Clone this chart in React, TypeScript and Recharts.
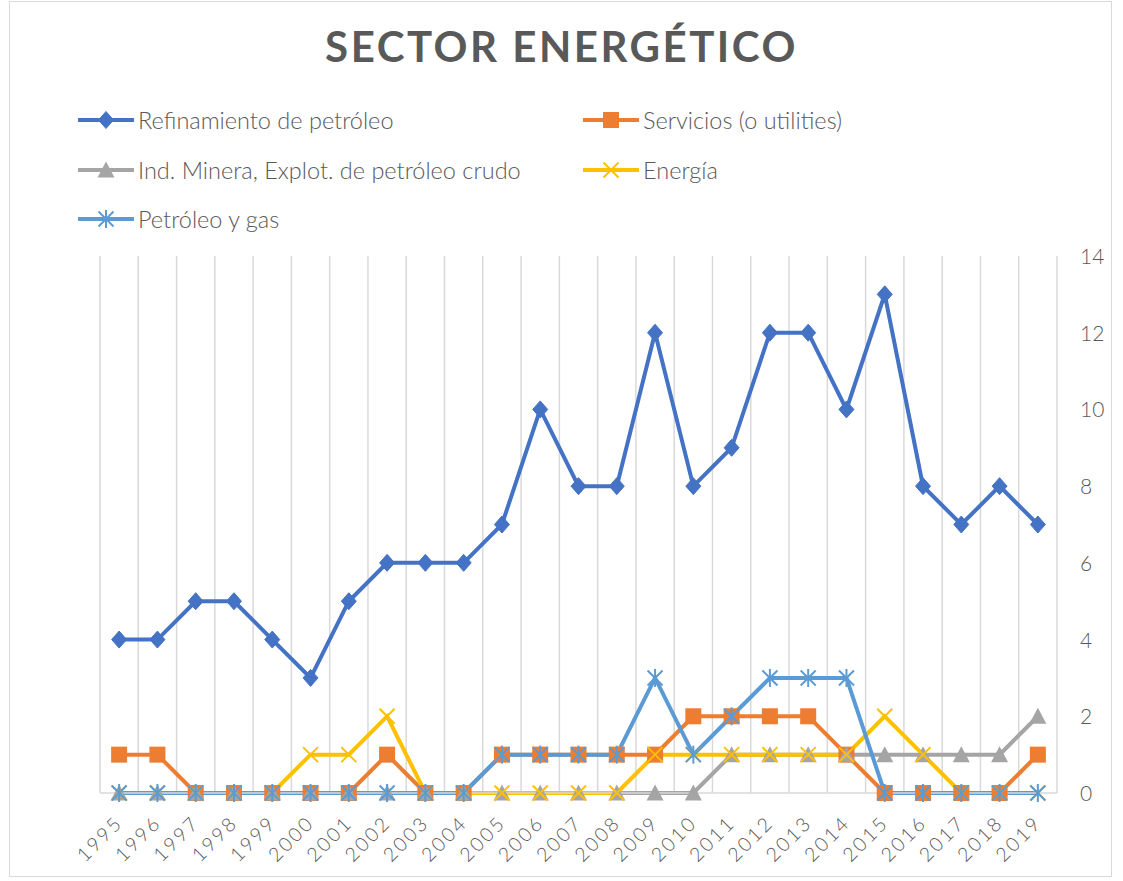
import React from 'react';
import { LineChart, Line, XAxis, YAxis, ReferenceLine } from 'recharts';

const years = ['1995','1996','1997','1998','1999','2000','2001','2002','2003','2004','2005','2006','2007','2008','2009','2010','2011','2012','2013','2014','2015','2016','2017','2018','2019'];
const refinamiento = [4,4,5,5,4,3,5,6,6,6,7,10,8,8,12,8,9,12,12,10,13,8,7,8,7];
const servicios = [1,1,0,0,0,0,0,1,0,0,1,1,1,1,1,2,2,2,2,1,0,0,0,0,1];
const minera = [0,0,0,0,0,0,0,0,0,0,0,0,0,0,0,0,1,1,1,1,1,1,1,1,2];
const energia = [0,0,0,0,0,1,1,2,0,0,0,0,0,0,1,1,1,1,1,1,2,1,0,0,0];
const petroleoGas = [0,0,0,0,0,0,0,0,0,0,1,1,1,1,3,1,2,3,3,3,0,0,0,0,0];
const yTicks = [0,2,4,6,8,10,12,14];

const data = years.map((y, i) => ({
  idx: i,
  year: y,
  refinamiento: refinamiento[i],
  servicios: servicios[i],
  minera: minera[i],
  energia: energia[i],
  petroleoGas: petroleoGas[i],
}));

const gridXs = Array.from({ length: years.length + 1 }, (_, i) => i - 0.5);

const FONT = 'Lato, "Open Sans", sans-serif';
const TXT = '#595959';

type Shape = 'diamond' | 'square' | 'triangle' | 'x' | 'star';

const Marker = ({ cx, cy, shape, color }: { cx: number; cy: number; shape: Shape; color: string }) => {
  if (cx == null || cy == null) return null;
  switch (shape) {
    case 'diamond':
      return <polygon points={`${cx},${cy - 8.5} ${cx + 7.5},${cy} ${cx},${cy + 8.5} ${cx - 7.5},${cy}`} fill={color} stroke={color} />;
    case 'square':
      return <rect x={cx - 8} y={cy - 8} width={16} height={16} fill={color} />;
    case 'triangle':
      return <polygon points={`${cx},${cy - 8.5} ${cx + 8.5},${cy + 7.5} ${cx - 8.5},${cy + 7.5}`} fill={color} />;
    case 'x':
      return (
        <g stroke={color} strokeWidth={2}>
          <line x1={cx - 7.5} y1={cy - 7.5} x2={cx + 7.5} y2={cy + 7.5} />
          <line x1={cx - 7.5} y1={cy + 7.5} x2={cx + 7.5} y2={cy - 7.5} />
        </g>
      );
    case 'star':
      return (
        <g stroke={color} strokeWidth={2}>
          <line x1={cx - 7.5} y1={cy - 7.5} x2={cx + 7.5} y2={cy + 7.5} />
          <line x1={cx - 7.5} y1={cy + 7.5} x2={cx + 7.5} y2={cy - 7.5} />
          <line x1={cx} y1={cy - 9} x2={cx} y2={cy + 9} />
        </g>
      );
  }
  return null;
};

const series: { key: string; name: string; color: string; shape: Shape }[] = [
  { key: 'refinamiento', name: 'Refinamiento de petróleo', color: '#4472C4', shape: 'diamond' },
  { key: 'servicios', name: 'Servicios (o utilities)', color: '#ED7D31', shape: 'square' },
  { key: 'minera', name: 'Ind. Minera, Explot. de petróleo crudo', color: '#A5A5A5', shape: 'triangle' },
  { key: 'energia', name: 'Energía', color: '#FFC000', shape: 'x' },
  { key: 'petroleoGas', name: 'Petróleo y gas', color: '#5B9BD5', shape: 'star' },
];

const LegendBlock = () => (
  <div style={{ position: 'absolute', left: 0, top: 104, width: 1123, height: 150 }}>
    {series.map((s, i) => {
      const col = i % 2;
      const row = Math.floor(i / 2);
      return (
        <div key={s.key} style={{ position: 'absolute', left: col === 0 ? 78 : 583, top: row * 49.5, height: 32, display: 'flex', alignItems: 'center' }}>
          <svg width={56} height={20} style={{ display: 'block' }}>
            <line x1={0} y1={10} x2={56} y2={10} stroke={s.color} strokeWidth={4} />
            <Marker cx={28} cy={10} shape={s.shape} color={s.color} />
          </svg>
          <span style={{ fontFamily: FONT, fontWeight: 300, fontSize: 23.5, color: TXT, marginLeft: 4, whiteSpace: 'nowrap' }}>{s.name}</span>
        </div>
      );
    })}
  </div>
);

const XTick = ({ x, y, payload }: any) => (
  <text
    x={x + 5}
    y={y + 23}
    transform={`rotate(-45 ${x + 5} ${y + 23})`}
    textAnchor="end"
    fill={TXT}
    fontFamily={FONT}
    fontWeight={300}
    fontSize={19.5}
    letterSpacing={2.5}
  >
    {years[payload.value]}
  </text>
);

const YTick = ({ x, y, payload }: any) => (
  <text x={x + 15} y={y + 8} textAnchor="start" fill={TXT} fontFamily={FONT} fontWeight={300} fontSize={21}>
    {payload.value}
  </text>
);

export default function App() {
  return (
    <div style={{ position: 'absolute', left: 0, top: 0, width: 1123, height: 881, background: '#fff' }}>
      <div style={{ position: 'absolute', left: 9, top: 1, width: 1103, height: 876, border: '1px solid #D9D9D9', boxSizing: 'border-box' }} />
      <div style={{ position: 'absolute', left: 0, top: 21, width: 1123, textAlign: 'center', fontFamily: FONT, fontWeight: 700, fontSize: 42, letterSpacing: 2.5, color: TXT }}>
        SECTOR ENERGÉTICO
      </div>
      <LegendBlock />
      <div style={{ position: 'absolute', left: 0, top: 0 }}>
        <LineChart width={1123} height={881} data={data} margin={{ top: 256, right: 10, left: 100, bottom: 18 }}>
          <XAxis
            dataKey="idx"
            type="number"
            domain={[-0.5, 24.5]}
            ticks={years.map((_, i) => i)}
            interval={0}
            tick={<XTick />}
            tickLine={false}
            axisLine={{ stroke: '#D9D9D9', strokeWidth: 1.5 }}
            height={70}
          />
          <YAxis
            orientation="right"
            domain={[0, 14]}
            ticks={yTicks}
            tick={<YTick />}
            tickLine={false}
            axisLine={false}
            width={56}
          />
          {gridXs.map((gx) => (
            <ReferenceLine key={gx} x={gx} stroke="#D9D9D9" strokeWidth={1.5} />
          ))}
          {series.map((s) => (
            <Line
              key={s.key}
              dataKey={s.key}
              name={s.name}
              stroke={s.color}
              strokeWidth={4}
              isAnimationActive={false}
              dot={(p: any) => <Marker key={`${s.key}-${p.index}`} cx={p.cx} cy={p.cy} shape={s.shape} color={s.color} />}
              activeDot={false}
            />
          ))}
        </LineChart>
      </div>
    </div>
  );
}
